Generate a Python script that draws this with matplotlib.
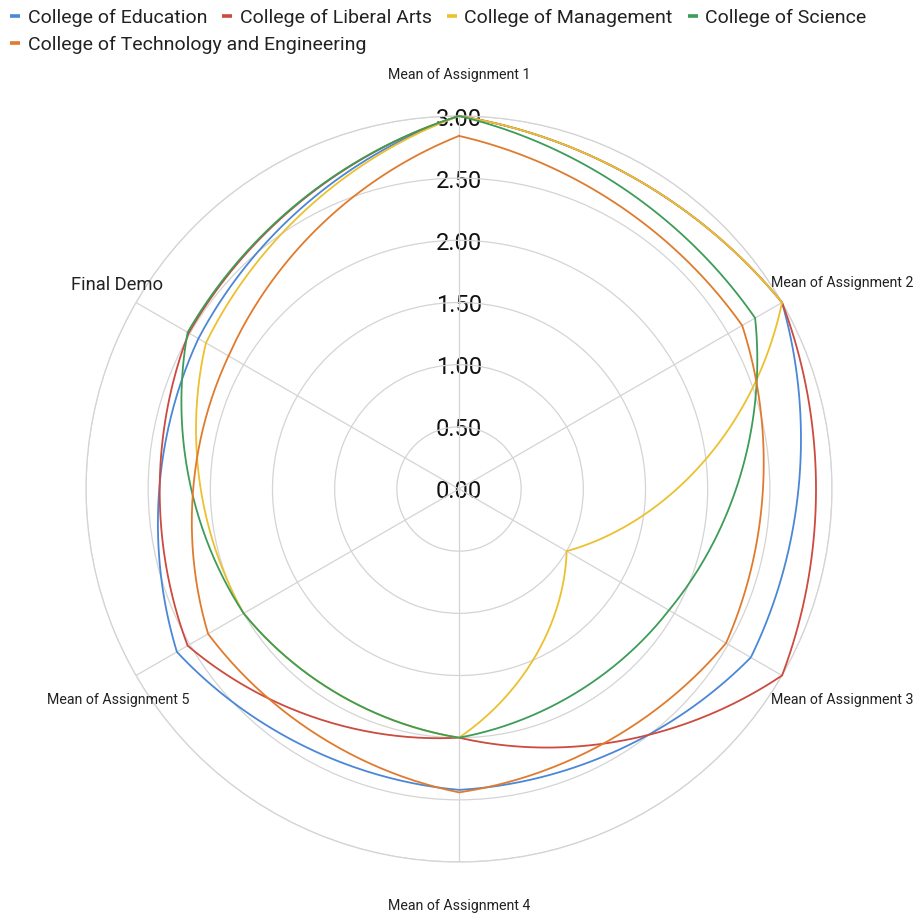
import numpy as np
import matplotlib
matplotlib.use("Agg")
import matplotlib.pyplot as plt
from matplotlib.lines import Line2D
from matplotlib.transforms import offset_copy

plt.rcParams['font.family'] = ['Roboto', 'DejaVu Sans']

# ---------------- data ----------------
categories = ["Mean of Assignment 1", "Mean of Assignment 2", "Mean of Assignment 3",
              "Mean of Assignment 4", "Mean of Assignment 5", "Final Demo"]
series_names = ["College of Education", "College of Liberal Arts", "College of Management",
                "College of Science", "College of Technology and Engineering"]
education = [3.00, 3.00, 2.71, 2.42, 2.62, 2.42]
liberal_arts = [3.00, 3.00, 3.00, 2.00, 2.52, 2.51]
management = [3.00, 3.00, 1.00, 2.00, 2.00, 2.35]
science = [3.00, 2.75, 1.95, 2.00, 2.00, 2.52]
technology = [2.84, 2.63, 2.48, 2.44, 2.33, 2.14]
radial_ticks = [0.0, 0.5, 1.0, 1.5, 2.0, 2.5, 3.0]
radial_labels = ["0.00", "0.50", "1.00", "1.50", "2.00", "2.50", "3.00"]

# ---------------- style ----------------
colors = ["#4a87d6", "#cc4a3e", "#ecc12f", "#3d9c58", "#e07b2d"]
grid_color = "#d4d4d4"
# label placement (angle in degrees clockwise from top, radius in data units, font size)
label_pos = [(0, 3.33, 10.2), (61.8, 3.50, 10.2), (118.8, 3.52, 10.2),
             (180, 3.35, 10.2), (238.2, 3.22, 10.2), (300.8, 3.20, 13.2)]


def curved(theta, r, alpha=0.68, steps=80):
    """Smoothed connection between consecutive radar vertices (closed)."""
    th = np.append(theta, theta[0] + 2 * np.pi)
    rr = np.append(r, r[0])
    xs, ys = [], []
    t = np.linspace(0, 1, steps)
    for i in range(len(theta)):
        pt = th[i] + t * (th[i + 1] - th[i])
        pr = rr[i] + t * (rr[i + 1] - rr[i])
        px, py = pr * np.cos(pt), pr * np.sin(pt)
        x0, y0 = rr[i] * np.cos(th[i]), rr[i] * np.sin(th[i])
        x1, y1 = rr[i + 1] * np.cos(th[i + 1]), rr[i + 1] * np.sin(th[i + 1])
        cx, cy = x0 + t * (x1 - x0), y0 + t * (y1 - y0)
        xs.append(alpha * px + (1 - alpha) * cx)
        ys.append(alpha * py + (1 - alpha) * cy)
    x = np.concatenate(xs)
    y = np.concatenate(ys)
    return np.unwrap(np.arctan2(y, x)), np.hypot(x, y)


fig = plt.figure(figsize=(9.19, 9.15), dpi=100)
fig.patch.set_facecolor("white")
ax = fig.add_axes([86 / 919, 53 / 915, 746 / 919, 746 / 915], projection="polar")
ax.set_theta_offset(np.pi / 2)
ax.set_theta_direction(-1)

angles = np.arange(len(categories)) * 2 * np.pi / len(categories)
ax.set_ylim(0, 3.0)
ax.set_xticks(angles)
ax.set_xticklabels([])
ax.set_yticks(radial_ticks[1:])
ax.set_yticklabels([])
ax.grid(True, color=grid_color, linewidth=0.9)
ax.spines["polar"].set_color(grid_color)
ax.spines["polar"].set_linewidth(0.9)
ax.tick_params(length=0)

lab_trans = offset_copy(ax.transData, fig=fig, x=0, y=-3, units="dots")
for r, lab in zip(radial_ticks, radial_labels):
    ax.text(0, r, lab, ha="center", va="center", fontsize=17, color="#111111",
            zorder=1.5, transform=lab_trans)

all_series = [education, liberal_arts, management, science, technology]
for vals, col, name in zip(all_series, colors, series_names):
    tt, rr = curved(angles, np.array(vals, dtype=float))
    ax.plot(tt, rr, color=col, linewidth=1.3, clip_on=False, zorder=3, label=name,
            solid_joinstyle="miter")

for cat, (adeg, rad, fs) in zip(categories, label_pos):
    ax.text(np.deg2rad(adeg), rad, cat, ha="center", va="center", fontsize=fs,
            color="#222222", clip_on=False)

handles = [Line2D([], [], color=c, linewidth=2.6, solid_capstyle="butt") for c in colors]
common = dict(frameon=False, handlelength=0.52, handletextpad=0.38, columnspacing=0.78,
              borderpad=0, borderaxespad=0, fontsize=14, labelcolor="#222222")
leg1 = fig.legend(handles[:4], series_names[:4], loc="center left", ncol=4,
                  bbox_to_anchor=(10 / 919, 1 - 17.5 / 915), **common)
leg2 = fig.legend(handles[4:], series_names[4:], loc="center left", ncol=1,
                  bbox_to_anchor=(10 / 919, 1 - 45 / 915), **common)

fig.savefig("out.png", dpi=100, facecolor="white")
